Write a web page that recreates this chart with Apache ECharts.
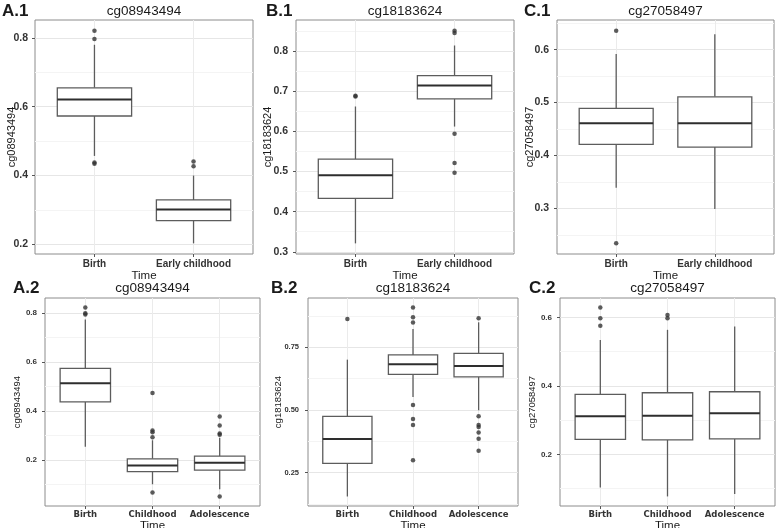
<!DOCTYPE html>
<html><head><meta charset="utf-8">
<script src="https://cdn.jsdelivr.net/npm/echarts@6/dist/echarts.min.js"></script>
<style>html,body{margin:0;padding:0;background:#fff}#c{width:778px;height:528px}</style>
</head><body><div id="c"></div>
<script>
// ---------- DATA ----------
const catsTop = ['Birth', 'Early childhood'];
const catsBottom = ['Birth', 'Childhood', 'Adolescence'];
const panelLabels = ['A.1', 'B.1', 'C.1', 'A.2', 'B.2', 'C.2'];
const probes = ['cg08943494', 'cg18183624', 'cg27058497', 'cg08943494', 'cg18183624', 'cg27058497'];
const xTitle = 'Time';

// box stats per category: [min whisker, Q1, median, Q3, max whisker]
const a1Box = [[0.457, 0.573, 0.621, 0.655, 0.780], [0.203, 0.269, 0.301, 0.329, 0.400]];
const a1Out = [[0.821, 0.797, 0.438, 0.434], [0.441, 0.427]];
const a1Ticks = [0.2, 0.4, 0.6, 0.8];
const a1Minor = [0.3, 0.5, 0.7];
const a1Limits = [0.172, 0.852];

const b1Box = [[0.321, 0.433, 0.491, 0.531, 0.662], [0.612, 0.681, 0.714, 0.739, 0.814]];
const b1Out = [[0.689, 0.687], [0.851, 0.845, 0.594, 0.521, 0.497]];
const b1Ticks = [0.3, 0.4, 0.5, 0.6, 0.7, 0.8];
const b1Minor = [0.35, 0.45, 0.55, 0.65, 0.75, 0.85];
const b1Limits = [0.2945, 0.8775];

const c1Box = [[0.339, 0.421, 0.461, 0.489, 0.592], [0.299, 0.416, 0.461, 0.511, 0.629]];
const c1Out = [[0.636, 0.234], []];
const c1Ticks = [0.3, 0.4, 0.5, 0.6];
const c1Minor = [0.25, 0.35, 0.45, 0.55, 0.65];
const c1Limits = [0.2139, 0.6561];

const a2Box = [[0.253, 0.437, 0.513, 0.574, 0.774], [0.100, 0.152, 0.177, 0.204, 0.280], [0.080, 0.158, 0.188, 0.215, 0.290]];
const a2Out = [[0.823, 0.800, 0.795], [0.473, 0.320, 0.313, 0.292, 0.066], [0.377, 0.340, 0.308, 0.303, 0.050]];
const a2Ticks = [0.2, 0.4, 0.6, 0.8];
const a2Minor = [0.1, 0.3, 0.5, 0.7];
const a2Limits = [0.011, 0.862];

const b2Box = [[0.155, 0.287, 0.384, 0.475, 0.701], [0.552, 0.642, 0.683, 0.720, 0.823], [0.499, 0.632, 0.676, 0.726, 0.850]];
const b2Out = [[0.863], [0.909, 0.870, 0.849, 0.520, 0.464, 0.440, 0.300], [0.866, 0.475, 0.440, 0.432, 0.410, 0.385, 0.337]];
const b2Ticks = [0.25, 0.50, 0.75];
const b2Minor = [0.125, 0.375, 0.625, 0.875];
const b2Limits = [0.117, 0.947];

const c2Box = [[0.103, 0.244, 0.311, 0.375, 0.534], [0.077, 0.242, 0.313, 0.380, 0.564], [0.084, 0.245, 0.320, 0.383, 0.574]];
const c2Out = [[0.629, 0.598, 0.576], [0.607, 0.598], []];
const c2Ticks = [0.2, 0.4, 0.6];
const c2Minor = [0.1, 0.3, 0.5];
const c2Limits = [0.049, 0.657];

// ---------- LAYOUT / STYLE ----------
const panels = [
  {box: a1Box, out: a1Out, ticks: a1Ticks, minor: a1Minor, lim: a1Limits, cats: catsTop, dec: 1,
   g: {left: 35, top: 20, width: 218, height: 234}, row: 0, yGap: 18, yMargin: 7},
  {box: b1Box, out: b1Out, ticks: b1Ticks, minor: b1Minor, lim: b1Limits, cats: catsTop, dec: 1,
   g: {left: 296, top: 20, width: 218, height: 234}, row: 0, yGap: 22.5, yMargin: 8},
  {box: c1Box, out: c1Out, ticks: c1Ticks, minor: c1Minor, lim: c1Limits, cats: catsTop, dec: 1,
   g: {left: 557, top: 20, width: 217, height: 234}, row: 0, yGap: 21.5, yMargin: 8},
  {box: a2Box, out: a2Out, ticks: a2Ticks, minor: a2Minor, lim: a2Limits, cats: catsBottom, dec: 1,
   g: {left: 45, top: 298, width: 215, height: 208}, row: 1, yGap: 23, yMargin: 8},
  {box: b2Box, out: b2Out, ticks: b2Ticks, minor: b2Minor, lim: b2Limits, cats: catsBottom, dec: 2,
   g: {left: 308, top: 298, width: 210, height: 208}, row: 1, yGap: 25, yMargin: 9},
  {box: c2Box, out: c2Out, ticks: c2Ticks, minor: c2Minor, lim: c2Limits, cats: catsBottom, dec: 1,
   g: {left: 560, top: 298, width: 215, height: 208}, row: 1, yGap: 22.5, yMargin: 8}
];

const BOX_STROKE = '#5c5c5c';
const MED_STROKE = '#2e2e2e';

function renderBox(params, api) {
  const x = api.value(0);
  const pMin = api.coord([x, api.value(1)]);
  const pQ1 = api.coord([x, api.value(2)]);
  const pMed = api.coord([x, api.value(3)]);
  const pQ3 = api.coord([x, api.value(4)]);
  const pMax = api.coord([x, api.value(5)]);
  const w = api.size([0.75, 0], [x, api.value(3)])[0];
  const cx = pMed[0];
  return {
    type: 'group',
    children: [
      {type: 'line', shape: {x1: cx, y1: pQ3[1], x2: cx, y2: pMax[1]}, style: {stroke: BOX_STROKE, lineWidth: 1.3}},
      {type: 'line', shape: {x1: cx, y1: pQ1[1], x2: cx, y2: pMin[1]}, style: {stroke: BOX_STROKE, lineWidth: 1.3}},
      {type: 'rect', shape: {x: cx - w / 2, y: pQ3[1], width: w, height: pQ1[1] - pQ3[1]},
       style: {fill: '#ffffff', stroke: BOX_STROKE, lineWidth: 1.3}},
      {type: 'line', shape: {x1: cx - w / 2, y1: pMed[1], x2: cx + w / 2, y2: pMed[1]},
       style: {stroke: MED_STROKE, lineWidth: 2}}
    ]
  };
}

const grid = [], xAxis = [], yAxis = [], series = [], graphic = [];
panels.forEach((p, i) => {
  const n = p.cats.length;
  const pos = p.cats.map((c, k) => k + 1);
  const top = p.row === 0;
  grid.push(Object.assign({show: true, borderColor: '#8c8c8c', borderWidth: 1, backgroundColor: '#fff',
    containLabel: false, outerBoundsMode: 'none'}, p.g));
  xAxis.push({
    gridIndex: i, type: 'value', min: 0.4, max: n + 0.6,
    axisLine: {show: false},
    axisTick: {show: true, customValues: pos, length: 3, lineStyle: {color: '#555', width: 1}},
    axisLabel: {show: true, customValues: pos, formatter: v => p.cats[Math.round(v) - 1] || '',
      margin: top ? 5 : 4, fontSize: top ? 10 : 8.5, fontWeight: 'bold', color: '#333',
      fontFamily: top ? 'Liberation Sans' : 'DejaVu Sans'},
    splitLine: {show: true, lineStyle: {color: '#ebebeb', width: 1}},
    name: xTitle, nameLocation: 'middle', nameGap: top ? 13 : 10.5,
    nameTextStyle: {fontSize: 11.5, color: '#1a1a1a', fontFamily: 'Liberation Sans'}
  });
  // minor gridline axis
  yAxis.push({
    gridIndex: i, type: 'value', min: p.lim[0], max: p.lim[1], position: 'left',
    axisLine: {show: false}, axisLabel: {show: false},
    axisTick: {show: false, customValues: p.minor},
    splitLine: {show: true, lineStyle: {color: '#f4f4f4', width: 1}}
  });
  // main axis
  yAxis.push({
    gridIndex: i, type: 'value', min: p.lim[0], max: p.lim[1], position: 'left',
    axisLine: {show: false},
    axisTick: {show: true, customValues: p.ticks, length: 3, lineStyle: {color: '#555', width: 1}},
    axisLabel: {show: true, customValues: p.ticks, formatter: v => v.toFixed(p.dec),
      margin: p.yMargin, fontSize: top ? 10.5 : (p.dec === 2 ? 7.5 : 8), fontWeight: 'bold', color: '#333',
      fontFamily: 'Liberation Sans'},
    splitLine: {show: true, lineStyle: {color: '#e6e6e6', width: 1}},
    name: probes[i], nameLocation: 'middle', nameRotate: 90, nameGap: p.yGap, nameMoveOverlap: false,
    nameTextStyle: {fontSize: top ? 11 : 9.5, color: '#1a1a1a', fontFamily: 'Liberation Sans'}
  });
  series.push({
    type: 'custom', xAxisIndex: i, yAxisIndex: 2 * i + 1,
    renderItem: renderBox,
    encode: {x: 0, y: [1, 2, 3, 4, 5]},
    data: p.box.map((b, k) => [pos[k]].concat(b)),
    z: 3
  });
  series.push({
    type: 'scatter', xAxisIndex: i, yAxisIndex: 2 * i + 1,
    symbol: 'circle', symbolSize: 4.5,
    itemStyle: {color: '#333'},
    data: p.out.flatMap((arr, k) => arr.map(v => [pos[k], v])),
    z: 4
  });
  const cx = p.g.left + p.g.width / 2;
  const ty = p.g.top - (top ? 9 : 10);
  graphic.push({type: 'text', x: cx, y: ty,
    style: {text: probes[i], font: '13.5px "Liberation Sans"', fill: '#1a1a1a', align: 'center', verticalAlign: 'middle',
      textAlign: 'center', textVerticalAlign: 'middle'}});
});

const labelPos = [[2, 11], [266, 11], [524, 11], [13, 288], [271, 288], [529, 288]];
panelLabels.forEach((t, i) => {
  graphic.push({type: 'text', x: labelPos[i][0], y: labelPos[i][1],
    style: {text: t, font: 'bold 17px "Liberation Sans"', fill: '#1a1a1a', align: 'left', verticalAlign: 'middle',
      textAlign: 'left', textVerticalAlign: 'middle'}});
});

const chart = echarts.init(document.getElementById('c'), null, {renderer: 'canvas'});
chart.setOption({
  animation: false,
  backgroundColor: '#fff',
  grid, xAxis, yAxis, series, graphic
});
</script></body></html>
